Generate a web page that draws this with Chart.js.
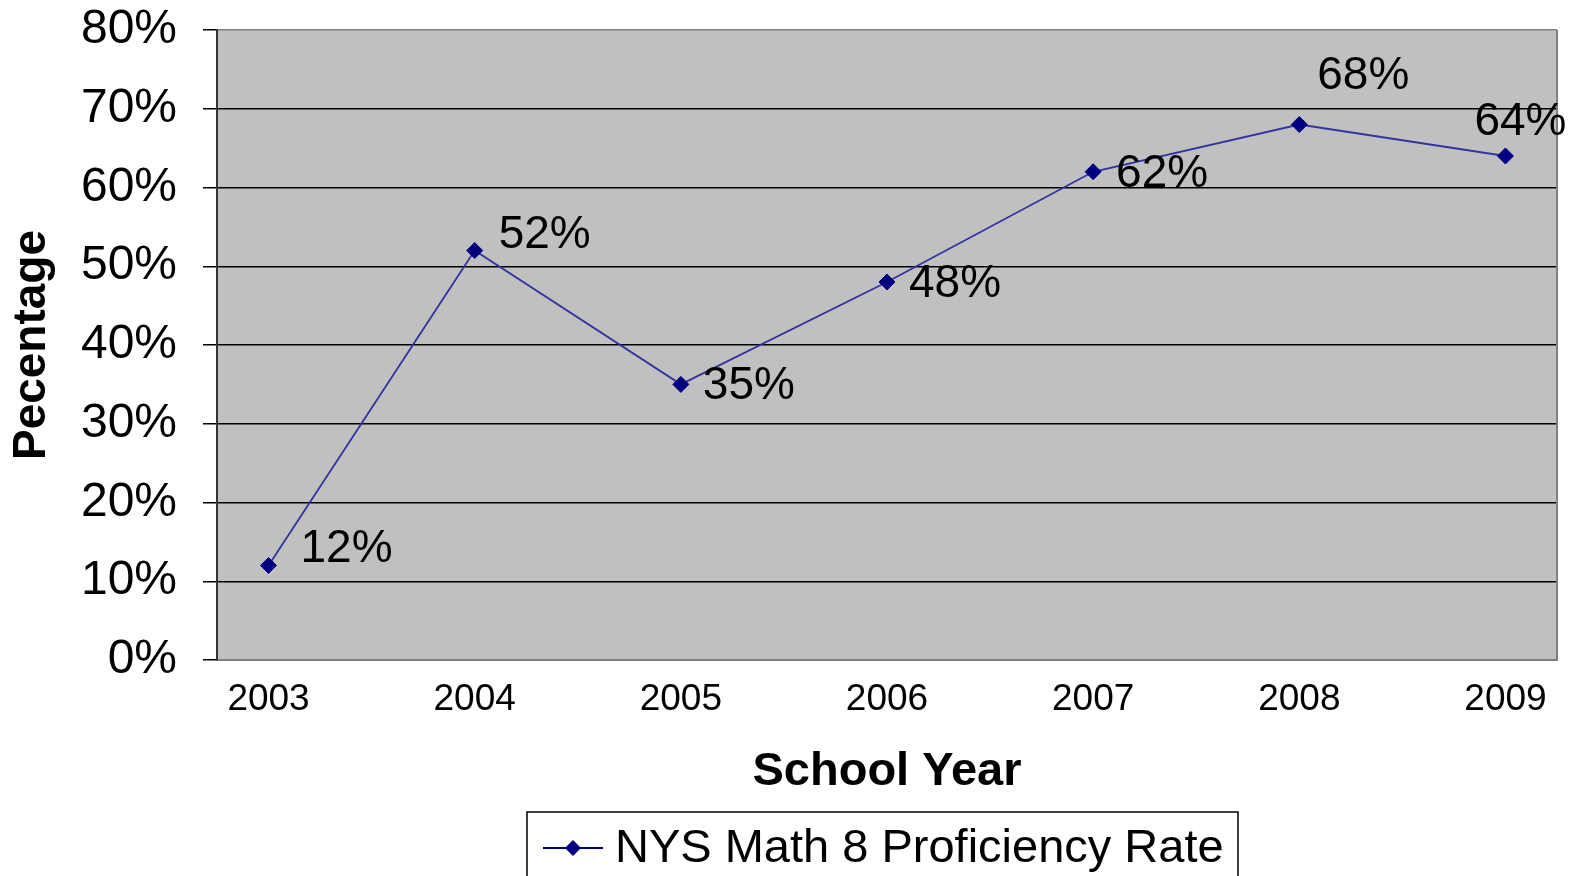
<!DOCTYPE html>
<html>
<head>
<meta charset="utf-8">
<script src="https://cdn.jsdelivr.net/npm/chart.js@4"></script>
<style>
  html, body { margin: 0; padding: 0; background: #fff; }
  #wrap { width: 1572px; height: 876px; }
</style>
</head>
<body>
<div id="wrap"><canvas id="grafico" width="1572" height="876"></canvas></div>
<script>
// dados
const anos = [2003, 2004, 2005, 2006, 2007, 2008, 2009];
const taxas = [12, 52, 35, 48, 62, 68, 64];
const rotuloSerie = 'NYS Math 8 Proficiency Rate';
const ticksY = [0, 10, 20, 30, 40, 50, 60, 70, 80];

// deslocamento de cada rótulo em relação ao ponto (px)
const deslocRotulos = [[78, -16], [70, -15], [68, 2], [68, 2], [69, 3], [64, -48], [15, -34]];

const FONTE = '"Liberation Sans", Arial, sans-serif';

// Plugin: fundo cinza, borda, rótulos de dados e legenda com moldura
const pluginDesenho = {
    id: 'desenho',
    beforeDraw(chart) {
        const { ctx, chartArea: a } = chart;
        ctx.save();
        ctx.fillStyle = '#fff';
        ctx.fillRect(0, 0, chart.width, chart.height);
        ctx.fillStyle = '#c0c0c0';
        ctx.fillRect(a.left, a.top, a.right - a.left, a.bottom - a.top);
        ctx.restore();
    },
    afterDatasetsDraw(chart) {
        const { ctx, chartArea: a } = chart;
        ctx.save();
        // borda direita
        ctx.strokeStyle = '#808080';
        ctx.lineWidth = 2;
        ctx.beginPath();
        ctx.moveTo(a.right, a.top);
        ctx.lineTo(a.right, a.bottom);
        ctx.stroke();

        // rótulos de dados
        const meta = chart.getDatasetMeta(0);
        ctx.fillStyle = '#000';
        ctx.font = '46px ' + FONTE;
        ctx.textAlign = 'center';
        ctx.textBaseline = 'middle';
        meta.data.forEach((pt, i) => {
            const d = deslocRotulos[i];
            ctx.fillText(taxas[i] + '%', pt.x + d[0], pt.y + d[1]);
        });

        // legenda
        const lx = 527, ly = 812, lw = 711;
        ctx.strokeStyle = '#000';
        ctx.lineWidth = 1.5;
        ctx.strokeRect(lx, ly, lw, 100);
        const cy = 848;
        ctx.strokeStyle = '#000080';
        ctx.lineWidth = 2;
        ctx.beginPath();
        ctx.moveTo(543, cy);
        ctx.lineTo(603, cy);
        ctx.stroke();
        ctx.fillStyle = '#000080';
        ctx.beginPath();
        ctx.moveTo(573, cy - 8);
        ctx.lineTo(581, cy);
        ctx.lineTo(573, cy + 8);
        ctx.lineTo(565, cy);
        ctx.closePath();
        ctx.fill();
        ctx.fillStyle = '#000';
        ctx.font = '47px ' + FONTE;
        ctx.textAlign = 'left';
        ctx.fillText(chart.data.datasets[0].label, 615, cy + 1);
        ctx.restore();
    }
};

const ctx = document.getElementById('grafico').getContext('2d');
new Chart(ctx, {
    type: 'line',
    data: {
        datasets: [{
            label: rotuloSerie,
            data: anos.map((a, i) => ({ x: a, y: taxas[i] })),
            borderColor: '#3333a0',
            borderWidth: 1.8,
            pointStyle: 'rectRot',
            pointRadius: 8,
            pointBackgroundColor: '#000080',
            pointBorderColor: '#000080',
            pointBorderWidth: 1,
            tension: 0,
            fill: false
        }]
    },
    options: {
        responsive: false,
        animation: false,
        devicePixelRatio: 1,
        layout: { padding: { top: 30, right: 15, bottom: 0, left: 0 } },
        plugins: {
            legend: { display: false },
            tooltip: { enabled: false }
        },
        scales: {
            x: {
                type: 'linear',
                min: 2002.75,
                max: 2009.25,
                afterFit: (s) => { s.height = 216; s.paddingLeft = 0; s.paddingRight = 0; },
                grid: { display: false, drawTicks: false },
                border: { display: true, color: '#808080', width: 2 },
                ticks: {
                    stepSize: 1,
                    includeBounds: false,
                    padding: 18,
                    color: '#000',
                    font: { family: FONTE, size: 37 },
                    callback: (v) => String(v)
                },
                title: {
                    display: true,
                    text: 'School Year',
                    color: '#000',
                    font: { family: FONTE, size: 47, weight: 'bold' },
                    padding: { top: 0, bottom: 76 }
                }
            },
            y: {
                min: 0,
                max: 80,
                afterFit: (s) => { s.width = 217; s.paddingTop = 0; s.paddingBottom = 0; },
                afterBuildTicks: (s) => { s.ticks = ticksY.map(v => ({ value: v })); },
                grid: {
                    color: (c) => (c.tick && (c.tick.value === 0 || c.tick.value === 80)) ? '#808080' : '#000',
                    lineWidth: 1.5,
                    drawTicks: true,
                    tickLength: 14,
                    tickColor: '#000'
                },
                border: { display: true, color: '#333', width: 2 },
                ticks: {
                    padding: 26,
                    color: '#000',
                    font: { family: FONTE, size: 48 },
                    callback: (v) => v + '%'
                },
                title: {
                    display: true,
                    text: 'Pecentage',
                    color: '#000',
                    font: { family: FONTE, size: 46, weight: 'bold' },
                    padding: { top: 5, bottom: 0 }
                }
            }
        }
    },
    plugins: [pluginDesenho]
});
</script>
</body>
</html>
